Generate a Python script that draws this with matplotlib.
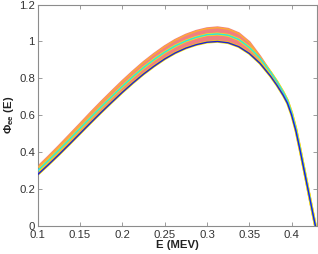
import matplotlib
matplotlib.use("Agg")
import matplotlib.pyplot as plt

plt.rcParams["font.family"] = ["Liberation Sans", "DejaVu Sans"]
plt.rcParams["mathtext.fontset"] = "custom"
plt.rcParams["mathtext.rm"] = "Liberation Sans"
plt.rcParams["mathtext.bf"] = "Liberation Sans:bold"

# energies (MeV) and curve values
energy = [0.1000, 0.1125, 0.1250, 0.1375, 0.1500, 0.1625, 0.1750, 0.1875,
          0.2000, 0.2125, 0.2250, 0.2375, 0.2500, 0.2625, 0.2750, 0.2875,
          0.3000, 0.3125, 0.3250, 0.3375, 0.3500, 0.3625, 0.3750, 0.3825,
          0.3900, 0.3950, 0.4000, 0.4050, 0.4100, 0.4150, 0.4200, 0.4250,
          0.4280]

phi_low = [0.277, 0.330, 0.385, 0.442, 0.500, 0.558, 0.615, 0.670,
           0.724, 0.775, 0.823, 0.866, 0.905, 0.938, 0.964, 0.983,
           0.996, 1.000, 0.993, 0.972, 0.935, 0.882, 0.812, 0.763,
           0.708, 0.665, 0.600, 0.515, 0.408, 0.295, 0.181, 0.067,
           0.000]

phi_mid = [0.298, 0.353, 0.410, 0.468, 0.528, 0.587, 0.645, 0.701,
           0.756, 0.809, 0.858, 0.902, 0.942, 0.976, 1.003, 1.023,
           1.037, 1.041, 1.034, 1.011, 0.968, 0.910, 0.834, 0.783,
           0.725, 0.680, 0.613, 0.526, 0.416, 0.301, 0.184, 0.069,
           0.000]

phi_high = [0.316, 0.372, 0.430, 0.490, 0.550, 0.611, 0.670, 0.727,
            0.783, 0.836, 0.886, 0.931, 0.972, 1.007, 1.035, 1.056,
            1.070, 1.075, 1.067, 1.043, 0.995, 0.918, 0.832, 0.781,
            0.723, 0.678, 0.611, 0.524, 0.414, 0.299, 0.183, 0.068,
            0.000]

xticks = [0.1, 0.15, 0.2, 0.25, 0.3, 0.35, 0.4]
yticks = [0, 0.2, 0.4, 0.6, 0.8, 1.0, 1.2]

fig = plt.figure(figsize=(3.18, 2.54), dpi=100)
ax = fig.add_axes([0.1186, 0.1122, 0.8783, 0.8693])

# band of curves
ax.fill_between(energy, phi_low, phi_high, color="#f08080", lw=0, zorder=1)
ax.plot(energy, phi_high, color="#f08080", lw=2.0, zorder=2)
ax.plot(energy, phi_high, color="#ffb02e", lw=0.9, zorder=3)
ax.plot(energy, phi_low, color="#f2e000", lw=1.9, zorder=2)
ax.plot(energy, phi_mid, color="#ffee00", lw=2.0, zorder=2)
ax.plot(energy, phi_mid, color="#30e0e0", lw=1.1, zorder=3)
ax.plot(energy, phi_low, color="#1c1cdc", lw=1.0, zorder=4)

ax.set_xlim(0.1, 0.43)
ax.set_ylim(0, 1.2)
ax.set_xticks(xticks)
ax.set_yticks(yticks)
ax.set_xticklabels(["0.1", "0.15", "0.2", "0.25", "0.3", "0.35", "0.4"])
ax.set_yticklabels(["0", "0.2", "0.4", "0.6", "0.8", "1", "1.2"])

for s in ax.spines.values():
    s.set_color("#8c8c8c")
    s.set_linewidth(0.8)
ax.tick_params(direction="in", top=True, right=True, length=3, width=0.6,
               color="#8c8c8c", labelsize=8.2, labelcolor="#333333")
ax.tick_params(axis="x", pad=3.5)
ax.tick_params(axis="y", pad=2)

ax.set_xlabel("E (MEV)", fontsize=8.2, fontweight="bold", color="#222222",
              labelpad=0)
ax.set_ylabel(r"$\mathbf{\Phi_{ee}}$ (E)", fontsize=8.2, fontweight="bold",
              color="#222222", labelpad=2)

fig.savefig("out.png", dpi=100, facecolor="white")
